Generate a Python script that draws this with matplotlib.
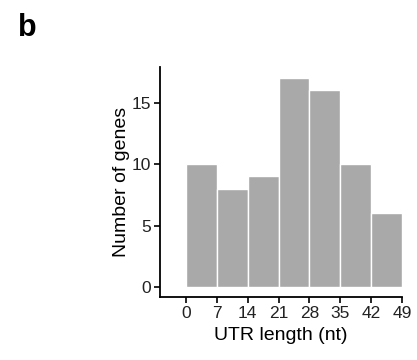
import matplotlib
matplotlib.use("Agg")
import matplotlib.pyplot as plt
import numpy as np

plt.rcParams["font.family"] = ["Liberation Sans", "DejaVu Sans"]

# histogram of UTR lengths, bins of 7 nt
bin_edges = [0, 7, 14, 21, 28, 35, 42, 49]
counts = [10, 8, 9, 17, 16, 10, 6]
x_ticks = [0, 7, 14, 21, 28, 35, 42, 49]
y_ticks = [0, 5, 10, 15]

BAR = "#A9A9A9"

fig = plt.figure(figsize=(4.17, 3.6), dpi=100)
ax = fig.add_axes([0.384, 0.175, 0.58, 0.639])

edges = np.array(bin_edges)
ax.bar(edges[:-1], counts, width=np.diff(edges), align="edge",
       color=BAR, edgecolor="white", linewidth=1.0)

ax.set_xlim(-5.9, 49)
ax.set_ylim(-0.8, 17.9)
ax.set_xticks(x_ticks)
ax.set_yticks(y_ticks)
ax.tick_params(labelsize=12.5, length=4, width=1.2, pad=2.5,
               color="black", labelcolor="#222222")
for side in ("top", "right"):
    ax.spines[side].set_visible(False)
for side in ("left", "bottom"):
    ax.spines[side].set_linewidth(1.3)
ax.set_xlabel("UTR length (nt)", fontsize=14, labelpad=4)
ax.set_ylabel("Number of genes", fontsize=14, labelpad=1.5)

fig.text(0.043, 0.9, "b", fontsize=22, fontweight="bold")

fig.savefig("out.png", dpi=100, facecolor="white")
